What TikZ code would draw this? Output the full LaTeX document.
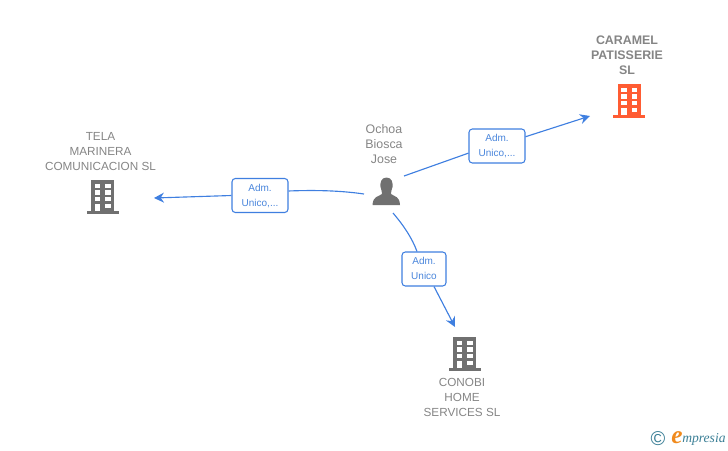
\documentclass[tikz,border=0pt]{standalone}
\usepackage{fontspec}
\setmainfont{Liberation Sans}
\newfontfamily\logofont{Liberation Serif}
\usetikzlibrary{arrows.meta}
\definecolor{linkblue}{HTML}{3F7FE0}
\definecolor{labelblue}{HTML}{4A86DC}
\definecolor{namegrey}{HTML}{858585}
\definecolor{icongrey}{HTML}{707070}
\definecolor{firmorange}{HTML}{FF5C33}
\definecolor{logoteal}{HTML}{3B7F96}
\definecolor{logoorange}{HTML}{F08A1D}
\tikzset{
  namelabel/.style={text=namegrey, align=center, font=\fontsize{8.8}{11.25}\selectfont},
  rolebox/.style={draw=linkblue, fill=white, rounded corners=2.5pt, line width=.8pt, text=labelblue,
    align=center, inner sep=0pt, text depth=.5pt, font=\fontsize{7.5}{11.25}\selectfont},
  link/.style={draw=linkblue, line width=.85pt},
  linkarrow/.style={link, -{Stealth[length=7.5pt,width=7.5pt,inset=2.5pt]}}
}
% x, y of the top middle of the tower, colour
\newcommand{\buildingicon}[3]{
  \fill[#3] (#1-11.5,#2) rectangle (#1+11.5,#2+31);
  \fill[#3] (#1-16,#2+31) rectangle (#1+16,#2+34);
  \foreach \i in {0,1,2} {
    \foreach \j in {-8,2.5} {
      \fill[white] (#1+\j,#2+3.5+6.5*\i) rectangle (#1+\j+5.5,#2+8+6.5*\i);
    }
  }
  \fill[white] (#1-8,#2+23.5) rectangle (#1-2.5,#2+31);
  \fill[white] (#1+2.5,#2+23.5) rectangle (#1+8,#2+28);
}
\begin{document}
\begin{tikzpicture}[x=.75pt,y=-.75pt]
  \useasboundingbox (0,0) rectangle (728,450);

  % person
  \node[namelabel, font=\fontsize{9.3}{11.25}\selectfont] (ochoaname) at (384,144) {Ochoa\\Biosca\\Jose};
  \fill[icongrey] (386.5,177.5) .. controls (381,177.5) and (380,183) .. (380.5,187)
    .. controls (381,190) and (382.5,192) .. (382,194)
    .. controls (378,197) and (373,196) .. (372.5,205) -- (400,205)
    .. controls (399.5,196) and (395,197) .. (391,194)
    .. controls (390.5,192) and (392,190) .. (392.5,187)
    .. controls (393,183) and (392,177.5) .. (386.5,177.5) -- cycle;
  \coordinate (ochoaeast) at (404,176);
  \coordinate (ochoawest) at (364,194);
  \coordinate (ochoasouth) at (393,213);

  % firms
  \node[namelabel, font=\bfseries\fontsize{9.3}{11.25}\selectfont] (caramel) at (627,55.5) {CARAMEL\\PATISSERIE\\SL};
  \buildingicon{629}{84}{firmorange}
  \coordinate (caramelin) at (590,116);

  \node[namelabel] (tela) at (100.5,151.5) {TELA\\MARINERA\\COMUNICACION SL};
  \buildingicon{102.5}{180}{icongrey}
  \coordinate (telain) at (154,198);

  \node[namelabel] (conobi) at (462,397.5) {CONOBI\\HOME\\SERVICES SL};
  \buildingicon{464.5}{337}{icongrey}
  \coordinate (conobiin) at (455,327);

  % roles
  \node[rolebox, minimum width=42pt, minimum height=25.5pt] (rolecaramel) at (497,146) {Adm.\\Unico,...};
  \node[rolebox, minimum width=42pt, minimum height=25.5pt] (roletela) at (260,195.5) {Adm.\\Unico,...};
  \node[rolebox, minimum width=33pt, minimum height=25.5pt] (roleconobi) at (424,269) {Adm.\\Unico};

  % links
  \draw[link] (ochoaeast) -- (rolecaramel.194);
  \draw[linkarrow] (rolecaramel.18) -- (caramelin);
  \draw[link] (ochoawest) .. controls (340,190.5) and (315,190) .. (roletela.9);
  \draw[linkarrow] (roletela.west) -- (telain);
  \draw[link] (ochoasouth) .. controls (404,226) and (412,238) .. (roleconobi.north -| 417,0);
  \draw[linkarrow] (roleconobi.south -| 434,0) -- (conobiin);

  % logo
  \node[text=logoteal, inner sep=0pt, font=\fontsize{15}{15}\selectfont] (logocopy) at (658,438.5) {\textcopyright};
  \node[text=logoteal, inner sep=0pt, anchor=west, font=\logofont\itshape\fontsize{10.2}{12}\selectfont] (logotext) at (682,439) {mpresia};
  \node[text=logoorange, inner sep=0pt, anchor=east, font=\logofont\itshape\bfseries\fontsize{19}{19}\selectfont] (logoe) at (683,437.5) {e};
\end{tikzpicture}
\end{document}
